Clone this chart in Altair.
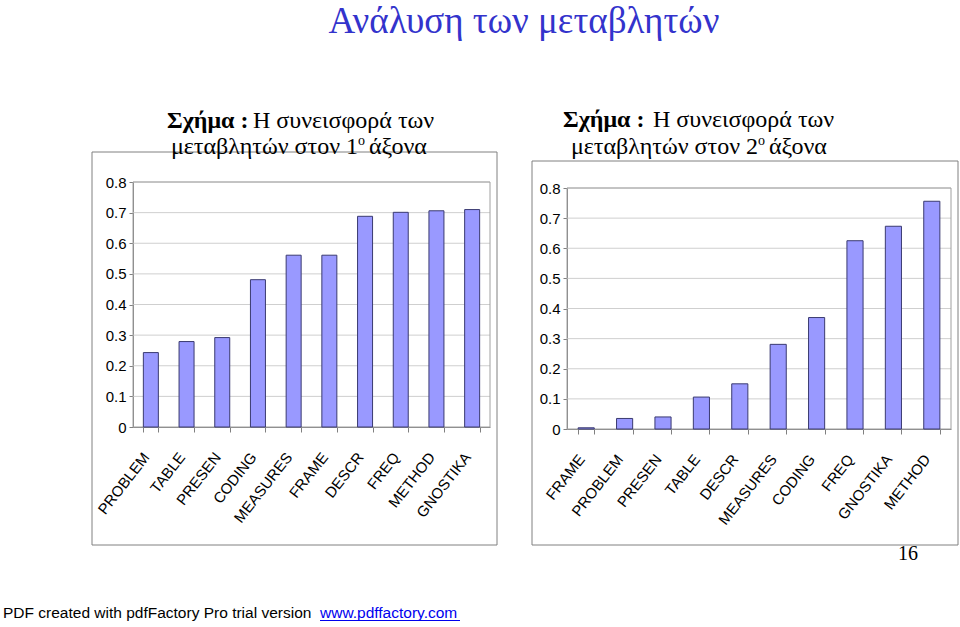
import altair as alt
import pandas as pd

# ---------------- data ----------------
main_title = "Ανάλυση των μεταβλητών"
fig_word = "Σχήμα :"
fig_rest = "Η συνεισφορά των"
line2_a = ["μεταβλητών στον 1", "μεταβλητών στον 2"]
line2_sup = "ο"
line2_b = "άξονα"
page_no = "16"
footer_txt = "PDF created with pdfFactory Pro trial version"
footer_link = "www.pdffactory.com"

cats1 = ["PROBLEM", "TABLE", "PRESEN", "CODING", "MEASURES", "FRAME", "DESCR", "FREQ", "METHOD", "GNOSTIKA"]
vals1 = [0.243, 0.279, 0.292, 0.481, 0.561, 0.561, 0.688, 0.701, 0.706, 0.710]

cats2 = ["FRAME", "PROBLEM", "PRESEN", "TABLE", "DESCR", "MEASURES", "CODING", "FREQ", "GNOSTIKA", "METHOD"]
vals2 = [0.004, 0.035, 0.040, 0.106, 0.150, 0.281, 0.370, 0.625, 0.673, 0.756]

y_ticks = [0, 0.1, 0.2, 0.3, 0.4, 0.5, 0.6, 0.7, 0.8]
grid_vals = [0.1, 0.2, 0.3, 0.4, 0.5, 0.6, 0.7, 0.8]

W, H = 960, 627
SERIF = "Liberation Serif, DejaVu Serif, serif"
SANS = "Liberation Sans, Arial, sans-serif"
YFONT = "Liberation Sans"

BAR_FILL = "#9999FF"
BAR_STROKE = "#3a3a70"
GRID = "#CFCFCF"
FRAME = "#A0A0A0"
BOX = "#808080"

one = pd.DataFrame({"k": [0]})


def txt(text, x, y, size, font=SERIF, weight="normal", color="black", align="left", baseline="alphabetic"):
    return alt.Chart(one).mark_text(
        text=text, align=align, baseline=baseline, font=font,
        fontSize=size, fontWeight=weight, color=color
    ).encode(x=alt.value(x), y=alt.value(y))


def rect(x0, x1, y0, y1, color):
    return alt.Chart(one).mark_rect(fillOpacity=0, stroke=color, strokeWidth=1).encode(
        x=alt.value(x0), x2=alt.value(x1), y=alt.value(y0), y2=alt.value(y1))


def panel(cats, vals, cat_f, val_f, g_f, px0, px1, py0, py1):
    df = pd.DataFrame({cat_f: cats, val_f: vals})
    gdf = pd.DataFrame({g_f: grid_vals})
    xs = alt.Scale(domain=cats, range=[px0, px1], paddingInner=0.58, paddingOuter=0.29)
    ys = alt.Scale(domain=[0, 0.8], range=[py1, py0], nice=False, zero=True)
    xaxis = alt.Axis(
        orient="bottom", offset=-(H - py1), title=None, grid=False,
        labelAngle=308, labelAlign="right", labelBaseline="middle",
        labelPadding=22, labelOffset=-5, tickBand="extent", tickSize=5,
        labelFont=SANS, labelFontSize=15, labelColor="black",
        domainColor=BOX, tickColor=BOX, labelOverlap=False,
    )
    yaxis = alt.Axis(
        orient="left", offset=-px0, title=None, grid=False, values=y_ticks,
        labelExpr="datum.value == 0 ? '0' : format(datum.value, '.1f')",
        tickSize=4, labelPadding=3, labelFont=YFONT, labelFontSize=15,
        labelColor="black", domainColor=BOX, tickColor=BOX,
    )
    grid = alt.Chart(gdf).mark_rule(color=GRID, strokeWidth=1).encode(
        y=alt.Y(f"{g_f}:Q", scale=ys, axis=yaxis),
        x=alt.value(px0), x2=alt.value(px1),
    )
    frame = rect(px0, px1, py0, py1, FRAME)
    bars = alt.Chart(df).mark_bar(fill=BAR_FILL, stroke=BAR_STROKE, strokeWidth=1).encode(
        x=alt.X(f"{cat_f}:N", scale=xs, axis=xaxis, sort=cats),
        y=alt.Y(f"{val_f}:Q", scale=ys, axis=yaxis),
    )
    return alt.layer(grid, frame, bars)


p1 = panel(cats1, vals1, "var1", "v1", "g1", 133, 490, 182, 427)
p2 = panel(cats2, vals2, "var2", "v2", "g2", 567, 951, 188, 429)

deco = [
    rect(92, 497, 152, 545, BOX),
    rect(532, 958, 161, 545, BOX),
    txt(main_title, 524, 33, 37, color="#3333CC", align="center"),
    # left subtitle
    txt(fig_word, 167, 128, 24, weight="bold"),
    txt(fig_rest, 253, 128, 24),
    txt(line2_a[0], 358, 154, 24, align="right"),
    txt(line2_sup, 358, 145, 14),
    txt(line2_b, 369, 154, 24),
    # right subtitle
    txt(fig_word, 563, 127, 24, weight="bold"),
    txt(fig_rest, 653, 127, 24),
    txt(line2_a[1], 758, 154, 24, align="right"),
    txt(line2_sup, 758, 145, 14),
    txt(line2_b, 769, 154, 24),
    # page number and footer
    txt(page_no, 908, 560, 20, align="center"),
    txt(footer_txt, 3, 618, 15.5, font=SANS),
    txt(footer_link, 320, 618, 15.5, font=SANS, color="#0000EE"),
    alt.Chart(one).mark_rule(color="#0000EE", strokeWidth=1).encode(
        x=alt.value(320), x2=alt.value(460), y=alt.value(620.5)),
]

chart = alt.layer(p1, p2, *deco).resolve_scale(
    x="independent", y="independent"
).properties(
    width=W, height=H, padding=0,
    autosize=alt.AutoSizeParams(type="none"),
    background="white",
).configure_view(strokeWidth=0)

chart.save("out.html", embed_options={"renderer": "svg", "actions": False})
